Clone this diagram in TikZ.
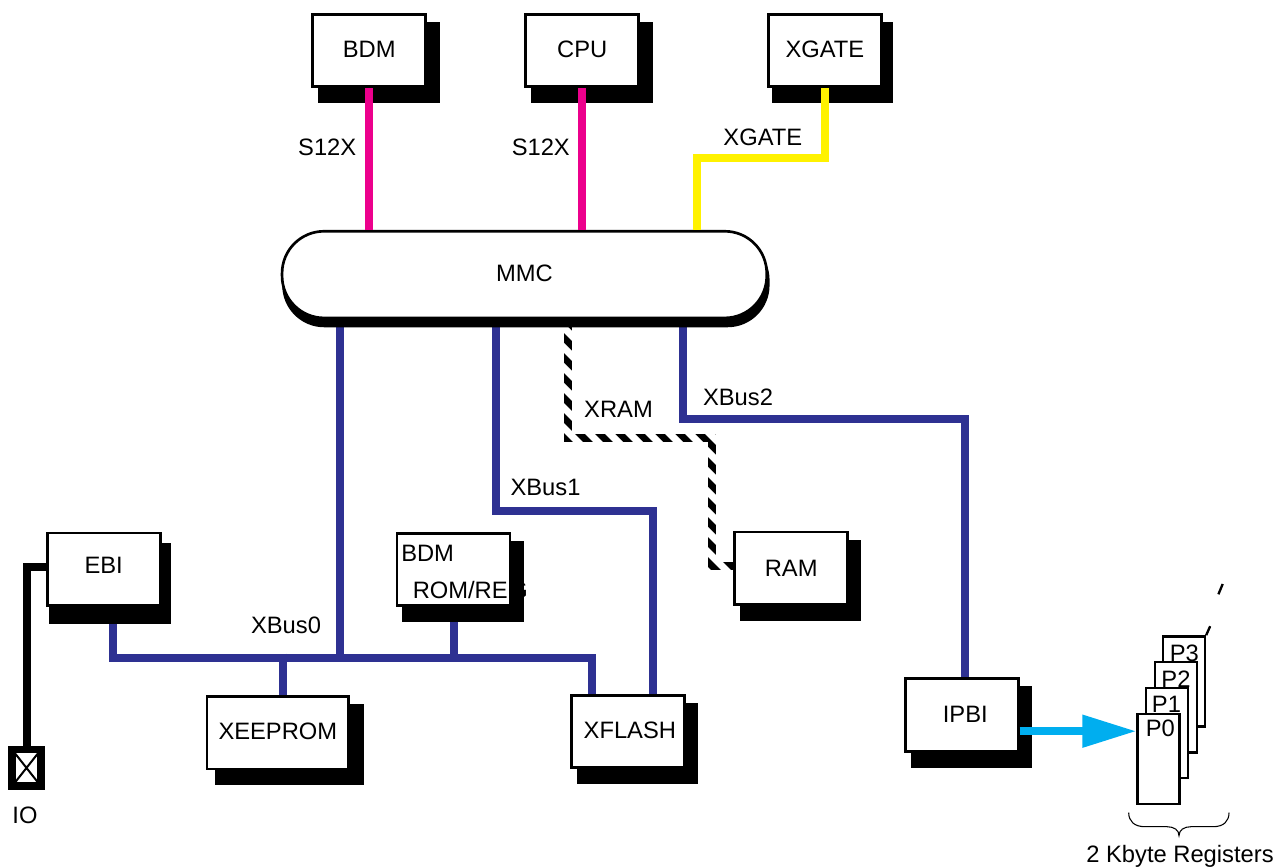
\documentclass[tikz,border=0pt]{standalone}
\usepackage{fontspec}
\setmainfont{Liberation Sans}
\usetikzlibrary{arrows.meta,backgrounds,calc}
\definecolor{busblue}{HTML}{2E3192}
\definecolor{busmagenta}{HTML}{EC008C}
\definecolor{busyellow}{HTML}{FFF200}
\definecolor{arrowcyan}{HTML}{00AEEF}
\begin{document}
\begin{tikzpicture}[x=.75pt,y=-.75pt,font=\fontsize{17.8}{21}\selectfont,
 modbox/.style={draw,fill=white,line width=2pt,inner sep=0pt,minimum width=84.7pt,
  minimum height=54.4pt,text height=12.7pt,text depth=2.5pt},
 lbl/.style={inner sep=0pt,text height=12.7pt,text depth=0pt},
 pagebox/.style={draw,fill=white,line width=1.75pt,inner sep=0pt,minimum width=31.5pt,minimum height=67.7pt},
 s12xbus/.style={line width=6pt,busmagenta},
 xgatebus/.style={line width=6pt,busyellow},
 xbus/.style={line width=6pt,busblue},
 xrambus/.style={line width=6pt,black},
 iobus/.style={line width=6pt,black},
 pagearrow/.style={line width=5.8pt,arrowcyan,-{Triangle[length=40.5pt,width=23.3pt]}},
 pagetick/.style={line width=1.75pt}]
 \useasboundingbox (0,0) rectangle (1275,867);
 \node[modbox,minimum width=363.5pt,minimum height=65pt,rounded corners=31.5pt,text depth=3pt] (mmc) at (524.4,274.6) {MMC};
 \node[modbox] (bdm) at (369.25,50.5) {BDM};
 \node[modbox] (cpu) at (582.25,50.5) {CPU};
 \node[modbox] (xgate) at (824.85,50.5) {XGATE};
 \node[modbox,text depth=6.5pt] (ebi) at (103.7,569.2) {EBI};
 \node[modbox] (bdmrom) at (453.5,569.5) {};
 \node[modbox,text depth=1pt] (ram) at (791.15,568.2) {RAM};
 \node[modbox,text depth=1.5pt] (ipbi) at (961.85,715) {\hspace*{5.1pt}IPBI};
 \node[modbox,minimum width=106.3pt,text depth=3pt] (xeeprom) at (277.85,732.65) {XEEPROM};
 \node[modbox,text depth=1.5pt] (xflash) at (627.7,731.5) {\hspace*{3.2pt}XFLASH};
 \node[lbl,anchor=west] (bdmromtop) at (401,553.3) {BDM};
 \node[lbl,anchor=west] (bdmromreg) at (412.5,590.3) {ROM/RE\kern1.2pt G};
 \node[draw,fill=white,line width=5.6pt,inner sep=0pt,minimum width=21.5pt,minimum height=27.3pt,
  path picture={\draw[line width=1.5pt,black] (path picture bounding box.north west)--(path picture bounding box.south east)
   (path picture bounding box.north east)--(path picture bounding box.south west);}] (iopad) at (26.5,767.9) {};
 \foreach \page/\px/\py/\tx/\ty in {3/1184/681.5/1184.3/652.7,2/1175.7/707.3/1176/678.7,
  1/1166.9/732.8/1166.5/704,0/1158.5/759/1160.3/728}{
  \node[pagebox] (p\page) at (\px,\py) {};
  \node[lbl] (ptext\page) at (\tx,\ty) {P\page};
 }
 \node[lbl] (s12xa) at (327.2,146.7) {S12X};
 \node[lbl] (s12xb) at (540.8,146.7) {S12X};
 \node[lbl] (xgatetext) at (762.8,136.7) {XGATE};
 \node[lbl] (xramtext) at (618.5,409.5) {XRAM};
 \node[lbl] (xbustwotext) at (738,396.7) {XBus2};
 \node[lbl] (xbusonetext) at (545.5,486.7) {XBus1};
 \node[lbl] (xbuszerotext) at (286,625.5) {XBus0};
 \node[lbl] (iotext) at (25,814.7) {IO};
 \node[lbl] (regtext) at (1180,854) {2 Kbyte Registers};
 \coordinate (xgatebend) at (697,158);
 \coordinate (xbusleft) at (112.5,658.3);
 \coordinate (xbusright) at (592,658.3);
 \coordinate (xbusmain) at (340,658.3);
 \coordinate (xeepromtap) at (283,653.5);
 \coordinate (xbusonea) at (496,511.4);
 \coordinate (xbusoneb) at (653,511.4);
 \coordinate (xbustwoa) at (682.7,419.4);
 \coordinate (xbustwob) at (965.4,419.4);
 \coordinate (xrama) at (567.5,438.3);
 \coordinate (xramb) at (712.3,438.3);
 \coordinate (xramc) at (712.3,566);
 \coordinate (arrowlevel) at (1080,731.2);
 \begin{pgfonlayer}{background}
  \draw[xbus] (xbusleft |- ebi.south)--(xbusleft)--(xbusright)--(xbusright |- xflash.north);
  \draw[xbus] (bdmrom.south)--(bdmrom.south |- xbusleft);
  \draw[xbus] (xbusmain |- mmc.south)--(xbusmain);
  \draw[xbus] (xeepromtap)--(xeepromtap |- xeeprom.north);
  \draw[xbus] (xbusonea |- mmc.south)--(xbusonea)--(xbusoneb)--(xbusoneb |- xflash.north);
  \draw[xbus] (xbustwoa |- mmc.south)--(xbustwoa)--(xbustwob)--(xbustwob |- ipbi.north);
  \draw[xrambus] (xrama |- mmc.south)--(xrama)--(xramb)--(xramc)--(xramc -| ram.west);
  \begin{scope}
   \clip (563,320) rectangle (572,443) (563,434) rectangle (717,443) (708,434) rectangle (717,571) (708,561) rectangle (733,571);
   \foreach \c in {-24,-4,...,416}{
    \draw[white,line width=5.3pt] ({\c+250},250)--({\c+650},650);
   }
  \end{scope}
  \fill[rounded corners=31.5pt] ($(mmc.south west)+(1.5,8)$) rectangle ($(mmc.north east)+(1.5,8)$);
  \foreach \boxname/\dl/\dr/\dt/\db in {bdm/6.2/12.7/9/15,cpu/6.2/12.7/9/15,xgate/5.3/10.7/9/15,
   ebi/3.3/9/11/17,bdmrom/6.3/12.7/9.3/15.3,ram/6.7/12.4/9.4/15,ipbi/6.6/12.7/9/15,
   xeeprom/9/14.3/9.3/15,xflash/6.6/12.6/9.3/15}{
   \fill ($(\boxname.south west)+(\dl,\db)$) rectangle ($(\boxname.north east)+(\dr,\dt)$);
  }
 \end{pgfonlayer}
 \draw[s12xbus] (bdm.south)--(bdm.south |- mmc.north);
 \draw[s12xbus] (cpu.south)--(cpu.south |- mmc.north);
 \draw[xgatebus] (xgate.south) |- (xgatebend)--(xgatebend |- mmc.north);
 \draw[iobus] ([shift={(0,-2.5)}]ebi.west) -| (iopad.north);
 \draw[pagearrow] (ipbi.east |- arrowlevel)--(p0.west |- arrowlevel);
 \draw[pagetick] (p3.north east)--++(4,-9);
 \coordinate (tickstart) at (1218.4,594.3);
 \draw[pagetick] (tickstart)--++(4.3,-10.3);
 \draw[line width=.8pt] (1128.7,812.7) .. controls (1128.7,821) and (1134,826.7) .. (1145,826.7)--(1167,826.7)
  .. controls (1174,826.7) and (1179,830) .. (1179,835.7) .. controls (1179,830) and (1184,826.7) .. (1191,826.7)
  --(1213,826.7) .. controls (1224,826.7) and (1229,821) .. (1229,812.7);
\end{tikzpicture}
\end{document}
